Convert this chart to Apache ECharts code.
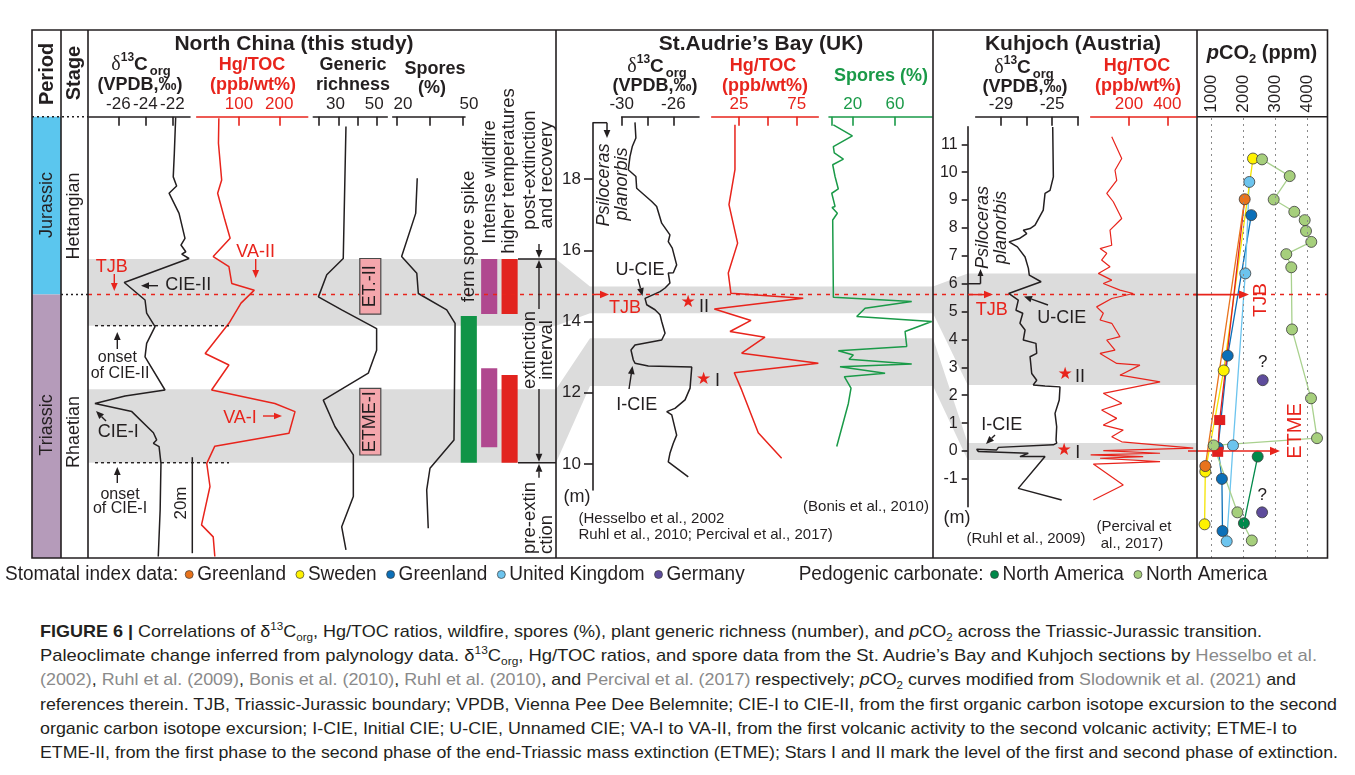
<!DOCTYPE html>
<html lang="en">
<head>
<meta charset="utf-8">
<title>Triassic–Jurassic transition: δ13Corg, Hg/TOC, spores and pCO2</title>
<script src="https://cdn.jsdelivr.net/npm/echarts@6.0.0/dist/echarts.min.js"></script>
<style>
  html, body { margin: 0; padding: 0; background: #fff; }
  #chart { position: absolute; left: 0; top: 0; width: 1355px; height: 600px; }
  #caption { position: absolute; left: 40px; top: 620px; color: #231f20; font-size: 17px; line-height: 24.2px; }
  #caption div { white-space: nowrap; height: 24.2px; }
  #caption span.line { display: inline-block; transform-origin: 0 50%; }
  #caption .ref { color: #8a8a8a; }
  #caption sup, #caption sub { font-size: 11px; line-height: 0; }
</style>
</head>
<body>
<div id="chart"></div>
<div id="caption"></div>
<script>
// ---------------------------------------------------------------------------
// North China (this study) — height in metres above the base of the section
// ---------------------------------------------------------------------------
const ncD13cHeight = [91.8, 84.3, 79.4, 77.5, 76.0, 71.8, 66.6, 65.2, 63.8, 63.3, 62.4, 57.4, 53.75, 51.0, 48.2, 44.7, 41.9, 35.0, 33.75, 32.2, 30.5, 26.1, 24.6, 23.9, 23.2, 19.7, 10.0, 0.3];
const ncD13cValue  = [-21.75, -21.85, -21.93, -21.68, -22.24, -21.5, -21.06, -21.36, -21.0, -21.3, -20.76, -25.56, -24.02, -23.9, -23.28, -23.9, -24.02, -22.54, -25.5, -27.73, -25.0, -23.4, -23.16, -23.4, -22.98, -22.84, -22.9, -23.04];

const ncHgHeight = [91.6, 86.4, 78.75, 76.0, 70.4, 66.6, 62.8, 60.7, 57.2, 55.8, 53.1, 48.9, 42.6, 40.2, 35.0, 32.2, 30.5, 26.0, 23.3, 19.7, 14.9, 6.9, 4.4, 0.3];
const ncHgValue  = [50, 49, 57, 47, 65, 78, 36, 75, 82, 138, 105, 75, 16, 75, 32, 189, 239, 224, 40, 20, 28, 7, 36, 40];

const ncGenericHeight = [89.9, 62.4, 59.0, 54.4, 51.7, 47.8, 43.3, 38.5, 32.9, 27.4, 21.5, 12.8, 6.5, 1.7];
const ncGenericValue  = [33.9, 32.5, 24.0, 19.7, 31.7, 49.7, 49.7, 45.4, 22.2, 28.2, 37.7, 37.7, 31.7, 33.9];

const ncSporeHeight = [79.1, 71.8, 62.8, 59.3, 55.1, 51.7, 48.9, 24.6, 18.7, 14.2, 6.2];
const ncSporeValue  = [29.2, 28.5, 22.1, 29.0, 29.7, 42.6, 46.4, 45.9, 35.0, 33.5, 34.2];

// interval columns: fern spore spike, intense wildfire, higher temperatures
const ncIntervalNames  = ['fern spore spike', 'Intense wildfire', 'higher temperatures'];
const ncIntervalColumn = [0, 1, 1, 2, 2];
const ncIntervalBase   = [19.85, 50.83, 23.06, 50.83, 19.85];
const ncIntervalTop    = [50.42, 62.29, 39.52, 62.29, 38.13];

const ncBandLow  = [48.4, 19.85];
const ncBandHigh = [62.29, 35.15];
const ncTJB = 54.9;
const ncOnsetLevels = [48.4, 19.85];
const ncScaleBar = [1.0, 21.0];
const ncEtmeBoxes = [[21.46, 35.35, 'ETME-I'], [50.8, 62.4, 'ET.-II']];

const ncD13cTicks = [-26, -24, -22];
const ncHgTicks = [100, 200];
const ncGenericTicks = [20, 30, 40, 50];
const ncGenericLabels = [30, 50];
const ncSporeTicks = [20, 35, 50];
const ncSporeLabels = [20, 50];

// ---------------------------------------------------------------------------
// St. Audrie's Bay (UK)
// ---------------------------------------------------------------------------
const sabD13cHeight = [19.59, 19.15, 18.91, 18.63, 18.26, 18.07, 17.74, 17.6, 17.37, 17.23, 16.76, 16.43, 16.24, 16.06, 15.59, 15.37, 15.36, 15.08, 14.94, 14.84, 14.65, 14.47, 14.33, 14.19, 14.0, 13.67, 13.48, 13.34, 13.2, 12.92, 12.83, 12.75, 12.72, 12.13, 11.8, 11.56, 11.47, 11.38, 10.81, 10.58, 10.3, 10.06, 9.64];
const sabD13cValue  = [-28.97, -28.9, -29.18, -29.36, -29.49, -28.9, -28.84, -28.4, -27.67, -27.29, -26.9, -26.26, -26.39, -26.08, -25.74, -26.0, -26.39, -26.26, -26.64, -27.03, -28.19, -28.06, -27.42, -27.03, -26.9, -26.64, -26.9, -28.97, -29.28, -29.1, -28.97, -27.94, -24.57, -24.7, -25.09, -25.87, -26.51, -26.12, -25.74, -26.0, -26.26, -26.39, -24.84];

const sabHgHeight = [19.52, 18.26, 17.28, 16.2, 15.36, 14.79, 14.65, 14.35, 14.03, 13.72, 13.56, 13.11, 12.83, 12.56, 12.08, 10.88, 10.16];
const sabHgValue  = [21.5, 21.5, 16.3, 23.8, 15.7, 18.0, 80.7, 3.6, 35.4, 17.2, 47.5, 27.3, 93.8, 20.9, 27.3, 41.7, 62.0];

const sabSporeHeight = [19.52, 19.21, 18.91, 18.73, 18.56, 18.4, 18.07, 17.72, 17.6, 17.23, 17.2, 17.04, 16.85, 14.84, 14.68, 14.56, 14.37, 14.14, 14.0, 13.72, 13.3, 13.18, 13.06, 12.94, 12.81, 12.73, 12.55, 12.45, 12.13, 11.7, 10.49];
const sabSporeValue  = [1.7, 19.7, 1.7, 2.6, 11.2, 1.1, 3.3, 6.4, 0.2, 3.3, 0.5, 5.5, 1.1, 1.7, 1.7, 75.8, 31.7, 23.8, 94.7, 69.5, 71.1, 6.4, 20.6, 16.5, 75.8, 8.0, 50.6, 12.1, 18.4, 15.9, 4.9];

const sabBandLow  = [14.23, 12.19];
const sabBandHigh = [14.98, 13.53];
const sabTJB = 14.76;
const sabPlanorbis = 19.58;

const sabDepthTicks = [10, 12, 14, 16, 18];
const sabD13cTicks = [-30, -28, -26, -24];
const sabD13cLabels = [-30, -26];
const sabHgTicks = [0, 25, 50, 75];
const sabHgLabels = [25, 75];
const sabSporeTicks = [0, 20, 60];
const sabSporeLabels = [20, 60];

// ---------------------------------------------------------------------------
// Kuhjoch (Austria)
// ---------------------------------------------------------------------------
const kD13cHeight = [11.62, 9.83, 9.35, 9.24, 8.64, 8.1, 7.98, 7.92, 7.8, 7.62, 7.5, 7.32, 6.96, 6.55, 6.31, 6.07, 5.65, 5.41, 5.05, 4.94, 4.58, 4.34, 3.98, 3.86, 3.5, 3.38, 2.78, 2.54, 2.37, 2.33, 2.3, 1.83, 1.35, 0.87, 0.39, 0.28, 0.22, 0.13, 0.04, 0.06, -0.02, -0.08, -0.2, -0.2, -1.34, -1.76];
const kD13cValue  = [-24.96, -24.91, -25.17, -25.56, -25.7, -26.34, -26.73, -27.26, -26.99, -27.57, -28.37, -27.72, -27.12, -26.86, -26.79, -25.87, -28.4, -27.65, -27.83, -27.3, -27.52, -27.12, -27.26, -26.27, -26.21, -26.73, -26.6, -26.21, -26.48, -25.56, -24.39, -24.45, -24.78, -24.65, -24.7, -24.65, -24.91, -29.2, -29.34, -30.9, -30.77, -26.87, -27.52, -25.56, -27.65, -24.26];

const kHgHeight = [11.27, 10.49, 10.07, 9.71, 9.24, 8.94, 8.34, 7.92, 7.38, 7.26, 7.09, 6.85, 6.61, 6.37, 6.13, 6.01, 5.77, 5.65, 5.47, 5.17, 4.94, 4.7, 4.58, 4.1, 3.98, 3.62, 3.5, 3.14, 3.08, 2.72, 2.48, 2.07, 1.71, 1.47, 1.17, 0.93, 0.75, 0.51, 0.33, 0.1, 0.01, -0.08, -0.14, -0.2, -0.26, -0.38, -0.47, -1.22, -1.76];
const kHgValue  = [110, 162, 127, 136, 84, 118, 162, 101, 110, 49, 84, 57, 101, 40, 110, 66, 153, 222, 110, 31, 66, 49, 110, 153, 84, 127, 49, 136, 257, 153, 362, 66, 162, 57, 136, 66, 170, 110, 162, 535, 66, 362, 0, 274, 49, 362, 14, 170, 14];

const kBandLow  = [2.37, -0.32];
const kBandHigh = [6.37, 0.29];
const kTJB = 5.61;
const kETME = 0.0;
const kPlanorbis = 6.0;

const kDepthTicks = [-2, -1, 0, 1, 2, 3, 4, 5, 6, 7, 8, 9, 10, 11];
const kD13cTicks = [-31, -29, -27, -25, -23];
const kD13cLabels = [-29, -25];
const kHgTicks = [0, 200, 400];
const kHgLabels = [200, 400];

// ---------------------------------------------------------------------------
// pCO2 estimates (ppm) plotted against the Kuhjoch level scale
// ---------------------------------------------------------------------------
const pco2Methods = ['Stomatal index data:', 'Pedogenic carbonate:'];
const pco2Sources = ['Greenland', 'Sweden', 'Greenland', 'United Kingdom', 'Germany', 'North America', 'North America'];

const siGreenlandAPpm = [2053, 822];
const siGreenlandALevel = [9.03, -0.54];
const siSwedenPpm = [2312, 1397, 822, 800];
const siSwedenLevel = [10.49, 2.89, -0.74, -2.63];
const siGreenlandBPpm = [2259, 1522, 1219, 1341, 1359];
const siGreenlandBLevel = [8.46, 3.42, 0.12, -1.0, -2.87];
const siUkPpm = [2197, 2072, 1688, 1491];
const siUkLevel = [9.65, 6.37, 0.2, -3.24];
const siGermanyPpm = [2616, 2597];
const siGermanyLevel = [2.54, -2.2];
const pcNorthAmericaAPpm = [2459, 2028];
const pcNorthAmericaALevel = [-0.2, -2.59];
const pcNorthAmericaBPpm = [2594, 3459, 2959, 3603, 3928, 3969, 4134, 3353, 3509, 3531, 4125, 4313, 1084, 1825, 2275];
const pcNorthAmericaBLevel = [10.46, 9.86, 9.02, 8.58, 8.28, 7.89, 7.5, 7.06, 6.59, 4.36, 1.89, 0.46, 0.2, -2.2, -3.21];
const redSquarePpm = [2053, 1272, 1209];
const redSquareLevel = [9.03, 1.11, -0.03];

const pco2Ticks = [1000, 2000, 3000, 4000];

// ---------------------------------------------------------------------------
// styling
// ---------------------------------------------------------------------------
const BLACK = '#231f20', RED = '#e8241c', GREEN = '#1a9a48', BAND = '#dcdcdc';
const FONT = '"Liberation Sans", Arial, Helvetica, sans-serif';
const SERIF = '"Liberation Serif", "DejaVu Serif", serif';

const measureCtx = document.createElement('canvas').getContext('2d');
function textWidth(str, font) { measureCtx.font = font; return measureCtx.measureText(str).width; }
function hasFont(name) {
  const t = 'abcdefghijklmnopqrstuvwxyz0123456789';
  return textWidth(t, '40px monospace') !== textWidth(t, `40px "${name}", monospace`);
}
const NARROW_OK = hasFont('Liberation Sans Narrow');
const NARROW = NARROW_OK ? '"Liberation Sans Narrow", "Liberation Sans", sans-serif' : FONT;

// vertical scales of the three sections (pixel position of a reference level, pixels per metre)
const V_NC  = { top: 116.7, bottom: 558,   ref: 0,  refPx: 558, ppu: 4.8 };
const V_SAB = { top: 116.7, bottom: 490,   ref: 10, refPx: 464, ppu: 35.625 };
const V_K   = { top: 116.7, bottom: 506.7, ref: 0,  refPx: 451, ppu: 27.88 };
const V_P   = { top: 116.7, bottom: 558,   ref: 0,  refPx: 451, ppu: 27.88 };

function vRange(v, top, bottom) {
  top = top == null ? v.top : top; bottom = bottom == null ? v.bottom : bottom;
  return { min: v.ref - (bottom - v.refPx) / v.ppu, max: v.ref + (v.refPx - top) / v.ppu };
}
function hRange(c) {
  return { min: c.ref + (c.x0 - c.refPx) / c.ppu, max: c.ref + (c.x1 - c.refPx) / c.ppu };
}

const columns = [
  { key: 'ncD',   x0: 89,     x1: 190,   ref: -26, refPx: 118.3, ppu: 13.5,   v: V_NC,  color: BLACK, ticks: ncD13cTicks, labels: ncD13cTicks },
  { key: 'ncHg',  x0: 196.7,  x1: 307.7, ref: 100, refPx: 239,   ppu: 0.403,  v: V_NC,  color: RED,   ticks: ncHgTicks, labels: ncHgTicks },
  { key: 'ncGen', x0: 313.3,  x1: 387.3, ref: 20,  refPx: 319,   ppu: 1.94,   v: V_NC,  color: BLACK, ticks: ncGenericTicks, labels: ncGenericLabels, pad: [0, 6, 0, 0] },
  { key: 'ncSp',  x0: 392.7,  x1: 465,   ref: 20,  refPx: 397,   ppu: 2.2,    v: V_NC,  color: BLACK, ticks: ncSporeTicks, labels: ncSporeLabels, pad: [0, 0, 0, 12] },
  { key: 'sabD',  x0: 621.7,  x1: 699,   ref: -30, refPx: 621.7, ppu: 12.9,   v: V_SAB, color: BLACK, ticks: sabD13cTicks, labels: sabD13cLabels },
  { key: 'sabHg', x0: 711.7,  x1: 818.3, ref: 25,  refPx: 739,   ppu: 1.153,  v: V_SAB, color: RED,   ticks: sabHgTicks, labels: sabHgLabels },
  { key: 'sabSp', x0: 829,    x1: 932,   ref: 20,  refPx: 852.7, ppu: 1.058,  v: V_SAB, color: GREEN, ticks: sabSporeTicks, labels: sabSporeLabels },
  { key: 'kD',    x0: 975.7,  x1: 1078.3,ref: -29, refPx: 1001,  ppu: 12.8,   v: V_K,   color: BLACK, ticks: kD13cTicks, labels: kD13cLabels },
  { key: 'kHg',   x0: 1090.7, x1: 1196,  ref: 200, refPx: 1129,  ppu: 0.1917, v: V_K,   color: RED,   ticks: kHgTicks, labels: kHgLabels }
];

const grids = [], xAxes = [], yAxes = [], series = [];
const AX = {};
function addGrid(key, left, width, top, bottom) {
  const i = grids.length;
  grids.push({ left, width, top, height: bottom - top, outerBoundsMode: 'none', containLabel: false });
  AX[key] = i;
  return i;
}

columns.forEach(c => {
  const i = addGrid(c.key, c.x0, c.x1 - c.x0, c.v.top, c.v.bottom);
  const xr = hRange(c), yr = vRange(c.v);
  xAxes.push({
    type: 'value', gridIndex: i, position: 'top', min: xr.min, max: xr.max,
    axisLine: { show: true, onZero: false, lineStyle: { color: c.color, width: 1.6 } },
    axisTick: { show: true, inside: true, length: 9, customValues: c.ticks, lineStyle: { color: c.color, width: 1.6 } },
    axisLabel: { show: true, customValues: c.labels, color: c.color, fontFamily: FONT, fontSize: 17, margin: 4, padding: c.pad || 0, formatter: v => String(v) },
    splitLine: { show: false }
  });
  yAxes.push({ type: 'value', gridIndex: i, min: yr.min, max: yr.max, show: false });
});

// measured-section height axes
function heightAxis(key, left, top, v, ticks, fontSize, tickLen, margin) {
  const i = addGrid(key, left, 10, top, v.bottom);
  const yr = vRange(v, top, v.bottom);
  xAxes.push({ type: 'value', gridIndex: i, min: 0, max: 1, show: false });
  yAxes.push({
    type: 'value', gridIndex: i, position: 'left', min: yr.min, max: yr.max,
    axisLine: { show: true, onZero: false, lineStyle: { color: BLACK, width: 1.6 } },
    axisTick: { show: true, length: tickLen, customValues: ticks, lineStyle: { color: BLACK, width: 1.6 } },
    axisLabel: { show: true, customValues: ticks, color: BLACK, fontFamily: FONT, fontSize, margin, formatter: v => String(v) },
    splitLine: { show: false }
  });
}
heightAxis('sabH', 593, 122.7, V_SAB, sabDepthTicks, 17, 9, 12);
heightAxis('kH', 967.7, 126.7, V_K, kDepthTicks, 16, 6, 10);

// interval bars beside the North China curves
(function () {
  const i = addGrid('ncBars', 458.6, 61.2, V_NC.top, V_NC.bottom);
  const yr = vRange(V_NC);
  xAxes.push({ type: 'value', gridIndex: i, min: -0.5, max: 2.5, show: false });
  yAxes.push({ type: 'value', gridIndex: i, min: yr.min, max: yr.max, show: false });
})();

// pCO2 panel
(function () {
  const i = addGrid('pco2', 1197, 131, V_P.top, V_P.bottom);
  const xr = hRange({ x0: 1197, x1: 1328, ref: 1000, refPx: 1211, ppu: 0.032 });
  const yr = vRange(V_P);
  xAxes.push({
    type: 'value', gridIndex: i, position: 'top', min: xr.min, max: xr.max,
    axisLine: { show: false }, axisTick: { show: false }, splitLine: { show: false },
    axisLabel: { show: true, customValues: pco2Ticks, rotate: 90, color: BLACK, fontFamily: FONT, fontSize: 17, margin: 4, formatter: v => String(v) }
  });
  yAxes.push({ type: 'value', gridIndex: i, min: yr.min, max: yr.max, show: false });
})();

function profile(name, key, xs, ys, color, width) {
  return {
    type: 'line', name, xAxisIndex: AX[key], yAxisIndex: AX[key],
    data: xs.map((v, i) => [v, ys[i]]), symbol: 'none', silent: true, clip: false,
    lineStyle: { color, width }, z: 3
  };
}
series.push(profile('North China δ13Corg', 'ncD', ncD13cValue, ncD13cHeight, BLACK, 1.5));
series.push(profile('North China Hg/TOC', 'ncHg', ncHgValue, ncHgHeight, RED, 1.5));
series.push(profile('North China generic richness', 'ncGen', ncGenericValue, ncGenericHeight, BLACK, 1.5));
series.push(profile('North China spores', 'ncSp', ncSporeValue, ncSporeHeight, BLACK, 1.5));
series.push(profile("St. Audrie's Bay δ13Corg", 'sabD', sabD13cValue, sabD13cHeight, BLACK, 1.5));
series.push(profile("St. Audrie's Bay Hg/TOC", 'sabHg', sabHgValue, sabHgHeight, RED, 1.5));
series.push(profile("St. Audrie's Bay spores", 'sabSp', sabSporeValue, sabSporeHeight, GREEN, 1.5));
series.push(profile('Kuhjoch δ13Corg', 'kD', kD13cValue, kD13cHeight, BLACK, 1.5));
series.push(profile('Kuhjoch Hg/TOC', 'kHg', kHgValue, kHgHeight, RED, 1.2));

const intervalColors = ['#109447', '#b0488f', '#e2231e'];
series.push({
  type: 'custom', name: 'North China intervals', xAxisIndex: AX.ncBars, yAxisIndex: AX.ncBars, silent: true, z: 3,
  data: ncIntervalColumn.map((c, i) => [c, ncIntervalBase[i], ncIntervalTop[i]]),
  encode: { x: 0, y: [1, 2] },
  renderItem(params, api) {
    const c = api.value(0);
    const top = api.coord([c, api.value(2)]);
    const base = api.coord([c, api.value(1)]);
    const w = api.size([1, 0])[0] * 0.79;
    return { type: 'rect', shape: { x: top[0] - w / 2, y: top[1], width: w, height: base[1] - top[1] }, style: { fill: intervalColors[c] } };
  }
});

function pco2(name, ppm, level, color, lineColor, opts = {}) {
  return Object.assign({
    type: 'line', name, xAxisIndex: AX.pco2, yAxisIndex: AX.pco2, silent: true, clip: false,
    data: ppm.map((v, i) => [v, level[i]]),
    symbol: 'circle', symbolSize: 11,
    itemStyle: { color, borderColor: '#3b3b3b', borderWidth: 0.8 },
    lineStyle: { color: lineColor, width: 1.3 }, z: 4
  }, opts);
}
const pco2Colors = ['#e8731c', '#fff200', '#0b6fb8', '#6cc4ee', '#5e4c9c', '#00894a', '#a6cf7c'];
series.push(pco2(pco2Sources[2], siGreenlandBPpm, siGreenlandBLevel, pco2Colors[2], pco2Colors[2], {
  markLine: {
    silent: true, symbol: 'none', label: { show: false },
    lineStyle: { color: '#8a8a8a', type: [2, 4], width: 1 },
    data: pco2Ticks.map(v => ({ xAxis: v }))
  }
}));
series.push(pco2(pco2Sources[3], siUkPpm, siUkLevel, pco2Colors[3], pco2Colors[3]));
series.push(pco2(pco2Sources[1], siSwedenPpm, siSwedenLevel, pco2Colors[1], '#f5e400'));
series.push(pco2('Red squares', redSquarePpm, redSquareLevel, '#e02020', '#e02020', {
  symbol: 'rect', symbolSize: (v, p) => (p.dataIndex === 0 ? 0 : [11, 10]), itemStyle: { color: '#e02020', borderWidth: 0 }
}));
series.push(pco2(pco2Sources[0], siGreenlandAPpm, siGreenlandALevel, pco2Colors[0], pco2Colors[0]));
series.push(pco2(pco2Sources[6], pcNorthAmericaBPpm, pcNorthAmericaBLevel, pco2Colors[6], '#a9d18e'));
series.push(pco2(pco2Sources[5], pcNorthAmericaAPpm, pcNorthAmericaALevel, pco2Colors[5], pco2Colors[5]));
series.push(pco2(pco2Sources[4], siGermanyPpm, siGermanyLevel, pco2Colors[4], 'transparent', {
  lineStyle: { width: 0 },
  label: { show: true, position: 'top', formatter: '?', fontFamily: FONT, fontSize: 17, color: BLACK, distance: 3 }
}));

const chart = echarts.init(document.getElementById('chart'), null, { renderer: 'canvas' });
chart.setOption({ animation: false, grid: grids, xAxis: xAxes, yAxis: yAxes, series });

// ---------------------------------------------------------------------------
// frames, bands, connectors, annotations
// ---------------------------------------------------------------------------
const G = [];
const Y = (key, v) => chart.convertToPixel({ yAxisIndex: AX[key] }, v);

function line(x1, y1, x2, y2, color = BLACK, width = 1.5, dash = null, z = 10) {
  G.push({ type: 'line', z, silent: true, shape: { x1, y1, x2, y2 }, style: { stroke: color, lineWidth: width, lineDash: dash } });
}
function arrow(x1, y1, x2, y2, color = BLACK, width = 1.4, head = 8) {
  const a = Math.atan2(y2 - y1, x2 - x1);
  const bx = x2 - head * Math.cos(a), by = y2 - head * Math.sin(a);
  line(x1, y1, bx, by, color, width);
  const hw = head * 0.42;
  G.push({ type: 'polygon', z: 10, silent: true, shape: { points: [[x2, y2], [bx + hw * Math.sin(a), by - hw * Math.cos(a)], [bx - hw * Math.sin(a), by + hw * Math.cos(a)]] }, style: { fill: color } });
}
function rect(x, y, w, h, fill, z = -10, stroke = null, lw = 0) {
  G.push({ type: 'rect', z, silent: true, shape: { x, y, width: w, height: h }, style: { fill, stroke, lineWidth: lw } });
}
function poly(points, fill, z = -10) {
  G.push({ type: 'polygon', z, silent: true, shape: { points }, style: { fill } });
}
function text(x, y, str, o = {}) {
  const font = `${o.style || 'normal'} ${o.weight || 'normal'} ${o.size || 18}px ${o.family || FONT}`;
  G.push({
    type: 'text', z: 20, silent: true, x, y, rotation: o.rot ? Math.PI / 2 : 0, scaleX: o.scaleX || 1,
    style: {
      text: str, font, fill: o.color || BLACK, rich: o.rich,
      align: o.align || 'center', verticalAlign: o.valign || 'middle',
      textAlign: o.align || 'center', textVerticalAlign: o.valign || 'middle'
    }
  });
}
function d13cHeader(cx, cy) {
  text(cx, cy, '{d|δ}{s|13}{c|C}{o|org}', {
    rich: {
      d: { font: `normal 20px ${SERIF}`, fill: BLACK, lineHeight: 26, verticalAlign: 'middle' },
      s: { font: `bold 12px ${FONT}`, fill: BLACK, lineHeight: 13, verticalAlign: 'top' },
      c: { font: `bold 19px ${FONT}`, fill: BLACK, lineHeight: 26, verticalAlign: 'middle' },
      o: { font: `bold 13px ${FONT}`, fill: BLACK, lineHeight: 14, verticalAlign: 'bottom', padding: [0, 0, 0, 2] }
    }
  });
}

// period & stage columns
const tjbY = Y('ncD', ncTJB);
rect(32, 116.7, 29, tjbY - 116.7, '#5bc6ee', 1);
rect(32, tjbY, 29, 558 - tjbY, '#b59bba', 1);
line(32, 116.7, 88, 116.7, BLACK, 1.4, [2, 3]);
line(61, tjbY, 88, tjbY, BLACK, 1.4, [2, 3]);
text(47, 74, 'Period', { rot: true, weight: 'bold', size: 20 });
text(74.5, 73, 'Stage', { rot: true, weight: 'bold', size: 20 });
text(47, 205, 'Jurassic', { rot: true, size: 18 });
text(47, 425, 'Triassic', { rot: true, size: 18 });
text(74.5, 216, 'Hettangian', { rot: true, size: 18 });
text(74.5, 432, 'Rhaetian', { rot: true, size: 18 });

// grey correlation bands and connectors
const sabBandX = 590, kBandX = 967.7;
ncBandLow.forEach((lo, i) => { const y1 = Y('ncD', ncBandHigh[i]), y2 = Y('ncD', lo); rect(88, y1, 468, y2 - y1, BAND); });
sabBandLow.forEach((lo, i) => { const y1 = Y('sabD', sabBandHigh[i]), y2 = Y('sabD', lo); rect(sabBandX, y1, 933 - sabBandX, y2 - y1, BAND); });
kBandLow.forEach((lo, i) => { const y1 = Y('kD', kBandHigh[i]), y2 = Y('kD', lo); rect(kBandX, y1, 1197 - kBandX, y2 - y1, BAND); });
ncBandLow.forEach((lo, i) => {
  poly([[556, Y('ncD', ncBandHigh[i])], [sabBandX, Y('sabD', sabBandHigh[i])], [sabBandX, Y('sabD', sabBandLow[i])], [556, Y('ncD', lo)]], BAND);
});
sabBandLow.forEach((lo, i) => {
  poly([[933, Y('sabD', sabBandHigh[i])], [kBandX, Y('kD', kBandHigh[i])], [kBandX, Y('kD', kBandLow[i])], [933, Y('sabD', lo)]], BAND);
});

// TJB and ETME levels
const RD = [4, 5];
line(88, Y('ncD', ncTJB), 556, Y('ncD', ncTJB), RED, 1.5, RD);
line(556, Y('sabD', sabTJB), 933, Y('sabD', sabTJB), RED, 1.5, RD);
arrow(596, Y('sabD', sabTJB), 609, Y('sabD', sabTJB), RED, 1.5, 9);
line(933, Y('kD', kTJB), 1197, Y('kD', kTJB), RED, 1.5, RD);
arrow(968, Y('kD', kTJB), 993, Y('kD', kTJB), RED, 1.5, 9);
arrow(1193, Y('pco2', kTJB), 1249, Y('pco2', kTJB), RED, 1.6, 10);
line(1253, Y('pco2', kTJB), 1327, Y('pco2', kTJB), RED, 1.5, RD);
arrow(1188, Y('pco2', kETME), 1280, Y('pco2', kETME), RED, 1.6, 10);
text(1261, 300, 'TJB', { rot: true, color: RED, size: 19 });
text(1295, 431, 'ETME', { rot: true, color: RED, size: 20 });

// North China annotations
ncOnsetLevels.forEach(h => line(95, Y('ncD', h), 229, Y('ncD', h), BLACK, 1.4, [3, 3]));
line(192.3, Y('ncD', ncScaleBar[0]), 192.3, Y('ncD', ncScaleBar[1]), BLACK, 1.5);
text(181.5, 503, '20m', { rot: true, size: 17 });
text(111.7, 266.7, 'TJB', { color: RED });
arrow(114.3, 274, 114.3, 291, RED);
text(188.3, 285, 'CIE-II');
arrow(158, 285.7, 141, 285.7);
text(255.7, 251.7, 'VA-II', { color: RED });
arrow(255.7, 259, 255.7, 278, RED);
text(117.3, 357.3, 'onset', { size: 16 });
text(120, 373.3, 'of CIE-II', { size: 16 });
arrow(117.3, 349, 117.3, 332);
text(118.3, 431.7, 'CIE-I');
arrow(106, 421, 96, 411);
text(240, 418.3, 'VA-I', { color: RED });
arrow(263, 416, 282, 416, RED);
text(120, 494.3, 'onset', { size: 16 });
text(120, 508.3, 'of CIE-I', { size: 16 });
arrow(117.3, 483, 117.3, 467);
ncEtmeBoxes.forEach(b => {
  const y1 = Y('ncD', b[1]), y2 = Y('ncD', b[0]);
  rect(359.8, y1, 21, y2 - y1, '#f4a6ac', 12, '#4a4a4a', 1.2);
  text(370.3, (y1 + y2) / 2, b[2], { rot: true, size: 18 });
});
text(468.5, 236.5, ncIntervalNames[0], { rot: true, size: 18.5 });
text(490, 182, ncIntervalNames[1], { rot: true, size: 18.5 });
text(508.5, 171, ncIntervalNames[2], { rot: true, size: 18.5 });
text(529.5, 170, 'post-extinction', { rot: true, size: 18.5 });
text(546.5, 175, 'and recovery', { rot: true, size: 18.5 });
text(529.5, 350, 'extinction', { rot: true, size: 18.5 });
text(546.5, 350, 'interval', { rot: true, size: 18.5 });
text(529.5, 554, 'pre-extin', { rot: true, size: 18.5, align: 'left' });
text(546.5, 554, 'ction', { rot: true, size: 18.5, align: 'left' });
const exTop = Y('ncD', ncBandHigh[0]), exBase = Y('ncD', ncOnsetLevels[1]);
line(518, exTop, 556, exTop, BLACK, 1.4);
line(518, exBase, 556, exBase, BLACK, 1.4);
arrow(539, exTop - 15, 539, exTop - 1);
arrow(539, 309, 539, exTop + 1);
arrow(539, 389, 539, exBase - 1);
arrow(539, exBase + 15, 539, exBase + 1);

// St. Audrie's Bay annotations
line(593, Y('sabD', sabPlanorbis), 607, Y('sabD', sabPlanorbis), BLACK, 1.5);
arrow(607, Y('sabD', sabPlanorbis), 607, 138, BLACK, 1.5, 8);
text(604, 185, 'Psiloceras', { rot: true, style: 'italic' });
text(622, 184, 'planorbis', { rot: true, style: 'italic' });
text(640, 270, 'U-CIE');
arrow(638, 279, 642.5, 296);
text(625, 308.5, 'TJB', { color: RED });
text(688, 302.5, '★', { color: RED, size: 17, family: '"DejaVu Sans", sans-serif' });
text(704, 307.5, 'II');
text(703.5, 380, '★', { color: RED, size: 17, family: '"DejaVu Sans", sans-serif' });
text(717.5, 381, 'I');
text(636.7, 405, 'I-CIE');
arrow(629, 389, 632.5, 366);
text(577, 497, '(m)', { size: 18 });
text(866, 507, '(Bonis et al., 2010)', { size: 15 });
text(578.5, 518.5, '(Hesselbo et al., 2002', { size: 15, align: 'left' });
text(578.5, 534.5, 'Ruhl et al., 2010; Percival et al., 2017)', { size: 15, align: 'left' });

// Kuhjoch annotations
line(967.7, Y('kD', kPlanorbis), 980.5, Y('kD', kPlanorbis), BLACK, 1.5);
arrow(980.5, Y('kD', kPlanorbis), 980.5, 269, BLACK, 1.5, 7);
text(982.7, 227.5, 'Psiloceras', { rot: true, style: 'italic' });
text(1000.5, 227.5, 'planorbis', { rot: true, style: 'italic' });
text(991.7, 310, 'TJB', { color: RED });
text(1061.7, 318.3, 'U-CIE');
arrow(1048, 305, 1024, 296.5);
text(1065, 374.5, '★', { color: RED, size: 17, family: '"DejaVu Sans", sans-serif' });
text(1080, 377, 'II');
text(1064, 451, '★', { color: RED, size: 17, family: '"DejaVu Sans", sans-serif' });
text(1077.7, 453.3, 'I');
text(1001.7, 425, 'I-CIE');
arrow(995, 435, 986, 444);
text(957, 518.5, '(m)', { size: 18 });
text(1026, 538.5, '(Ruhl et al., 2009)', { size: 15 });
text(1134, 527, '(Percival et', { size: 15 });
text(1132, 543.5, 'al., 2017)', { size: 15 });

// headers
text(294, 44, 'North China (this study)', { weight: 'bold', size: 21 });
text(761, 44, 'St.Audrie’s Bay (UK)', { weight: 'bold', size: 21 });
text(1073, 44, 'Kuhjoch (Austria)', { weight: 'bold', size: 21 });
d13cHeader(141, 65);
text(140, 85, '(VPDB,‰)', { weight: 'bold' });
text(252, 65, 'Hg/TOC', { weight: 'bold', color: RED });
text(253, 85, '(ppb/wt%)', { weight: 'bold', color: RED });
text(353, 65, 'Generic', { weight: 'bold' });
text(353, 85, 'richness', { weight: 'bold' });
text(435, 69, 'Spores', { weight: 'bold' });
text(432, 88, '(%)', { weight: 'bold' });
d13cHeader(657, 66.5);
text(655, 86, '(VPDB,‰)', { weight: 'bold' });
text(763, 66.5, 'Hg/TOC', { weight: 'bold', color: RED });
text(765, 86.5, '(ppb/wt%)', { weight: 'bold', color: RED });
text(881, 76.5, 'Spores (%)', { weight: 'bold', color: GREEN });
d13cHeader(1024, 67.5);
text(1025, 87, '(VPDB,‰)', { weight: 'bold' });
text(1137, 66.5, 'Hg/TOC', { weight: 'bold', color: RED });
text(1138, 86.5, '(ppb/wt%)', { weight: 'bold', color: RED });
text(1262, 53, '{p|p}{c|CO}{s|2}{c| (ppm)}', {
  rich: {
    p: { font: `italic bold 20px ${FONT}`, fill: BLACK, lineHeight: 26, verticalAlign: 'middle' },
    c: { font: `bold 20px ${FONT}`, fill: BLACK, lineHeight: 26, verticalAlign: 'middle' },
    s: { font: `bold 13px ${FONT}`, fill: BLACK, lineHeight: 14, verticalAlign: 'bottom' }
  }
});

// frames
G.push({ type: 'rect', z: 15, silent: true, shape: { x: 32, y: 30, width: 1295.5, height: 528 }, style: { fill: null, stroke: BLACK, lineWidth: 1.6 } });
[61, 88, 556, 933, 1197].forEach(x => line(x, 30, x, 558, BLACK, 1.6, null, 15));
line(1197, 116.7, 1327.5, 116.7, BLACK, 1.6, null, 15);

// legend (condensed lettering)
(function () {
  const size = 20, sx = NARROW_OK ? 1.12 : 0.95;
  const font = `${size}px ${NARROW}`;
  const y = 574;
  let x = 5;
  const groups = [[0, 1, 2, 3, 4], [5, 6]];
  groups.forEach((items, gi) => {
    text(x, y, pco2Methods[gi], { family: NARROW, size, align: 'left', scaleX: sx });
    x += textWidth(pco2Methods[gi], font) * sx + 7;
    items.forEach(k => {
      G.push({ type: 'circle', z: 20, silent: true, shape: { cx: x + 4, cy: y + 0.5, r: 4 }, style: { fill: pco2Colors[k], stroke: '#3b3b3b', lineWidth: 0.7 } });
      x += 12;
      text(x, y, pco2Sources[k], { family: NARROW, size, align: 'left', scaleX: sx });
      x += textWidth(pco2Sources[k], font) * sx + 10;
    });
    x += 44;
  });
})();

chart.setOption({ graphic: { elements: G } });

// ---------------------------------------------------------------------------
// caption
// ---------------------------------------------------------------------------
const captionLines = [
  '<b>FIGURE 6 |</b> Correlations of δ<sup>13</sup>C<sub>org</sub>, Hg/TOC ratios, wildfire, spores (%), plant generic richness (number), and <i>p</i>CO<sub>2</sub> across the Triassic-Jurassic transition.',
  'Paleoclimate change inferred from palynology data. δ<sup>13</sup>C<sub>org</sub>, Hg/TOC ratios, and spore data from the St. Audrie’s Bay and Kuhjoch sections by <span class="ref">Hesselbo et al.</span>',
  '<span class="ref">(2002)</span>, <span class="ref">Ruhl et al. (2009)</span>, <span class="ref">Bonis et al. (2010)</span>, <span class="ref">Ruhl et al. (2010)</span>, and <span class="ref">Percival et al. (2017)</span> respectively; <i>p</i>CO<sub>2</sub> curves modified from <span class="ref">Slodownik et al. (2021)</span> and',
  'references therein. TJB, Triassic-Jurassic boundary; VPDB, Vienna Pee Dee Belemnite; CIE-I to CIE-II, from the first organic carbon isotope excursion to the second',
  'organic carbon isotope excursion; I-CIE, Initial CIE; U-CIE, Unnamed CIE; VA-I to VA-II, from the first volcanic activity to the second volcanic activity; ETME-I to',
  'ETME-II, from the first phase to the second phase of the end-Triassic mass extinction (ETME); Stars I and II mark the level of the first and second phase of extinction.'
];
const captionLineWidths = [1222, 1277, 1256, 1297, 1257, 1298];
const cap = document.getElementById('caption');
cap.style.fontFamily = NARROW;
captionLines.forEach((html, i) => {
  const d = document.createElement('div');
  const s = document.createElement('span');
  s.className = 'line';
  s.innerHTML = html;
  d.appendChild(s);
  cap.appendChild(d);
  const w = s.getBoundingClientRect().width;
  s.style.transform = `scaleX(${captionLineWidths[i] / w})`;
});
</script>
</body>
</html>
